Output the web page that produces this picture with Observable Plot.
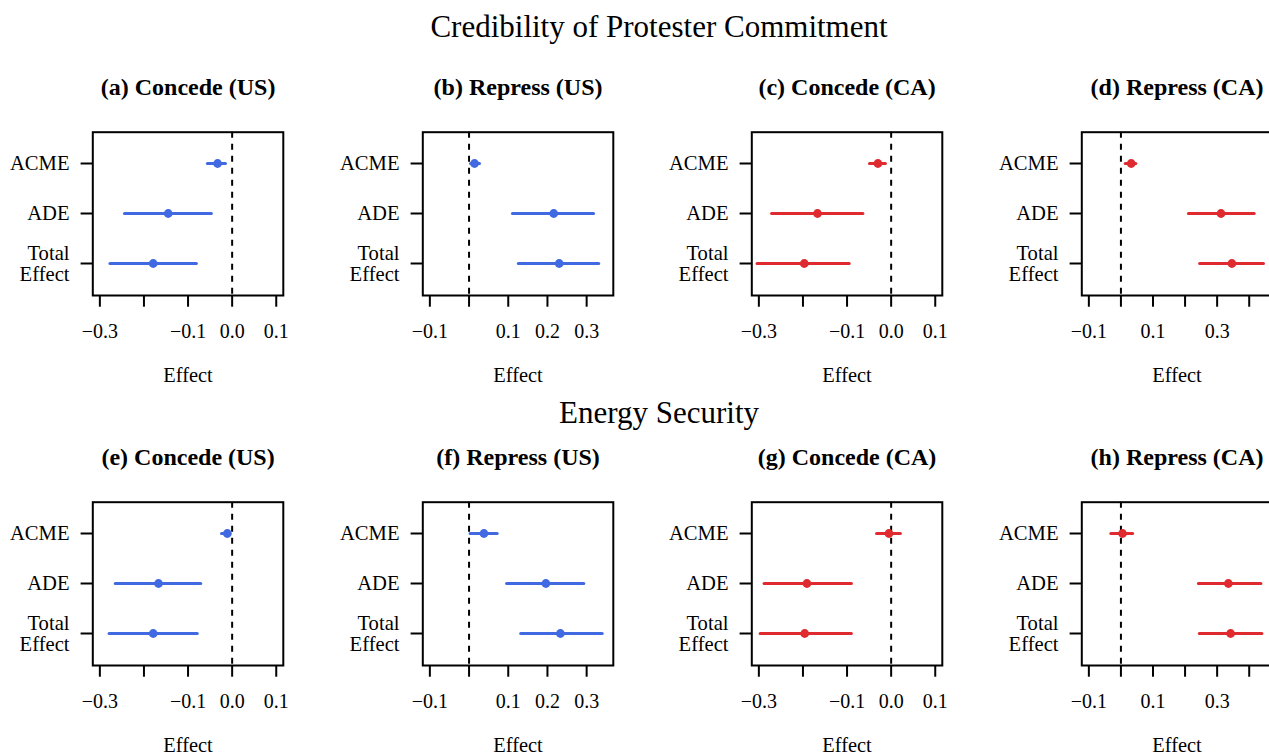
<!DOCTYPE html>
<html>
<head>
<meta charset="utf-8">
<script src="https://cdn.jsdelivr.net/npm/d3@7"></script>
<script src="https://cdn.jsdelivr.net/npm/@observablehq/plot@0.6"></script>
<style>
  html, body { margin: 0; padding: 0; background: #fff; overflow: hidden; }
  #fig { position: relative; width: 1269px; height: 755px; overflow: hidden; font-family: "Liberation Serif", "Times New Roman", serif; }
  .main { position: absolute; left: 0; width: 1318px; text-align: center; font-size: 31px; line-height: 31px; color: #000; }
  .cell { position: absolute; width: 330px; height: 330px; }
</style>
</head>
<body>
<div id="fig"></div>
<script>
// ---------- data ----------
const effects = ["ACME", "ADE", "Total Effect"];
const sectionTitles = ["Credibility of Protester Commitment", "Energy Security"];
const panelTitles = ["(a) Concede (US)", "(b) Repress (US)", "(c) Concede (CA)", "(d) Repress (CA)",
                     "(e) Concede (US)", "(f) Repress (US)", "(g) Concede (CA)", "(h) Repress (CA)"];
const panelCountry = ["US", "US", "CA", "CA", "US", "US", "CA", "CA"];

// x limits per column
const xLimConcede = [-0.3, 0.1];
const xLimRepressUS = [-0.1, 0.35];
const xLimRepressCA = [-0.1, 0.45];
// tick values and labelled ticks per column
const ticksConcede = [-0.3, -0.2, -0.1, 0.0, 0.1];
const labelsConcede = [-0.3, -0.1, 0.0, 0.1];
const ticksRepressUS = [-0.1, 0.0, 0.1, 0.2, 0.3];
const labelsRepressUS = [-0.1, 0.1, 0.2, 0.3];
const ticksRepressCA = [-0.1, 0.0, 0.1, 0.2, 0.3, 0.4];
const labelsRepressCA = [-0.1, 0.1, 0.3];

// estimates and intervals (ACME, ADE, Total Effect)
const estA = [-0.033, -0.145, -0.179], lowA = [-0.055, -0.243, -0.276], highA = [-0.014, -0.046, -0.080];
const estB = [0.014, 0.216, 0.230],    lowB = [0.005, 0.112, 0.127],    highB = [0.028, 0.319, 0.332];
const estC = [-0.030, -0.167, -0.197], lowC = [-0.048, -0.270, -0.303], highC = [-0.012, -0.063, -0.094];
const estD = [0.032, 0.312, 0.346],    lowD = [0.015, 0.212, 0.247],    highD = [0.048, 0.417, 0.446];
const estE = [-0.011, -0.167, -0.179], lowE = [-0.023, -0.264, -0.278], highE = [-0.004, -0.070, -0.078];
const estF = [0.038, 0.196, 0.233],    lowF = [0.004, 0.097, 0.133],    highF = [0.073, 0.294, 0.341];
const estG = [-0.005, -0.191, -0.196], lowG = [-0.032, -0.287, -0.296], highG = [0.022, -0.089, -0.089];
const estH = [0.005, 0.335, 0.342],    lowH = [-0.030, 0.243, 0.246],   highH = [0.038, 0.438, 0.441];

const colors = {US: "#4169E1", CA: "#DF2A30"};

// ---------- build ----------
const fig = document.getElementById("fig");
const fmt = d3.format(".1f");
const panels = [
  [estA, lowA, highA, xLimConcede, ticksConcede, labelsConcede],
  [estB, lowB, highB, xLimRepressUS, ticksRepressUS, labelsRepressUS],
  [estC, lowC, highC, xLimConcede, ticksConcede, labelsConcede],
  [estD, lowD, highD, xLimRepressCA, ticksRepressCA, labelsRepressCA],
  [estE, lowE, highE, xLimConcede, ticksConcede, labelsConcede],
  [estF, lowF, highF, xLimRepressUS, ticksRepressUS, labelsRepressUS],
  [estG, lowG, highG, xLimConcede, ticksConcede, labelsConcede],
  [estH, lowH, highH, xLimRepressCA, ticksRepressCA, labelsRepressCA]
];

sectionTitles.forEach((t, i) => {
  const d = document.createElement("div");
  d.className = "main";
  d.style.top = (i === 0 ? 10.8 : 396.5) + "px";
  d.textContent = t;
  fig.appendChild(d);
});

panels.forEach(([est, low, high, lim, ticks, labels], i) => {
  const row = Math.floor(i / 4), col = i % 4;
  const data = effects.map((e, j) => ({effect: e, est: est[j], low: low[j], high: high[j]}));
  const ext = (lim[1] - lim[0]) * 0.04;
  const color = colors[panelCountry[i]];
  const labelSet = new Set(labels.map(fmt));
  const chart = Plot.plot({
    width: 330,
    height: 330,
    marginLeft: 92.3,
    marginRight: 47.2,
    marginTop: 71.7,
    marginBottom: 95,
    style: {fontFamily: '"Liberation Serif", "Times New Roman", serif', fontSize: "20px", background: "transparent", overflow: "visible"},
    x: {domain: [lim[0] - ext, lim[1] + ext]},
    y: {type: "point", domain: effects, padding: 0.62},
    marks: [
      Plot.ruleX([0], {stroke: "black", strokeWidth: 2, strokeDasharray: "6,6"}),
      Plot.ruleY(data, {y: "effect", x1: "low", x2: "high", stroke: color, strokeWidth: 3, strokeLinecap: "round"}),
      Plot.dot(data, {x: "est", y: "effect", r: 4.4, fill: color}),
      Plot.frame({stroke: "black", strokeWidth: 2}),
      Plot.axisX({ticks: ticks, tickSize: 11.7, tickPadding: 16.4, strokeWidth: 2, fontSize: 20,
                  tickFormat: d => labelSet.has(fmt(d)) ? fmt(d) : "", label: null}),
      Plot.axisY({tickSize: 11.7, tickPadding: 11.6, strokeWidth: 2, fontSize: 20.6, lineHeight: 1.05,
                  tickFormat: d => d.replace(" ", "\n"), label: null}),
      Plot.text([panelTitles[i]], {frameAnchor: "top", dy: -37.2, lineAnchor: "bottom", fontWeight: "bold", fontSize: 24}),
      Plot.text(["Effect"], {frameAnchor: "bottom", dy: 86, lineAnchor: "bottom", fontSize: 20.4})
    ]
  });
  const cell = document.createElement("div");
  cell.className = "cell";
  cell.style.left = (col * 329.5) + "px";
  cell.style.top = (row === 0 ? 60 : 430) + "px";
  cell.appendChild(chart);
  fig.appendChild(cell);
});
</script>
</body>
</html>
